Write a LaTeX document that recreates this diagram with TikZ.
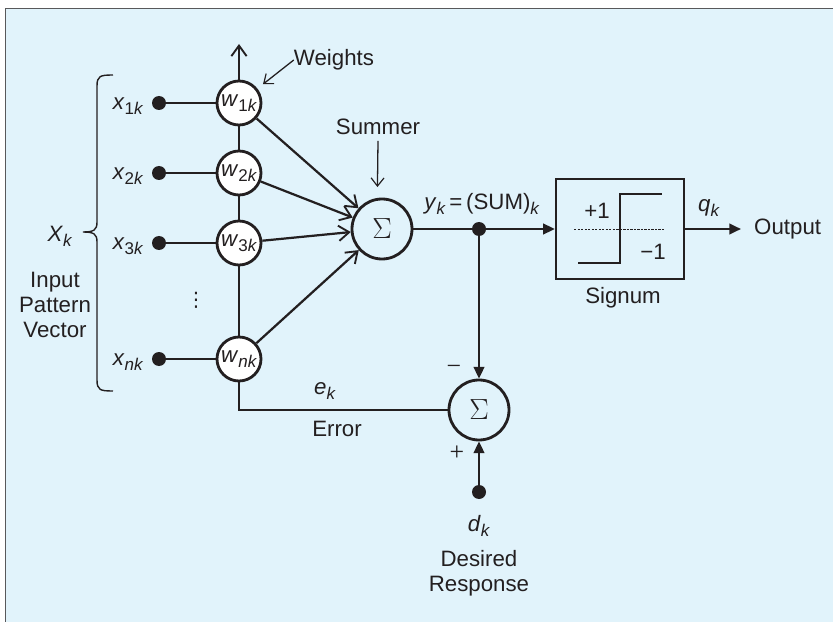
\documentclass[tikz,border=0pt]{standalone}
\usepackage{fontspec}
\setmainfont{Liberation Sans}
\newfontfamily\seriffam{Liberation Serif}
\newfontfamily\symfam{DejaVu Sans}
\usetikzlibrary{arrows.meta,calc}
\definecolor{ink}{HTML}{231F20}
\definecolor{panel}{HTML}{E1F3FB}
\definecolor{frame}{HTML}{58595B}
% subscript set a little below the baseline
\newcommand\sbs[1]{\raisebox{-0.45ex}{\fontsize{14.5}{14.5}\selectfont#1}}
\newcommand\lab{\fontsize{19}{22}\selectfont}
\begin{document}
\begin{tikzpicture}[x=0.03cm,y=-0.03cm,
  wt/.style={circle,draw=ink,line width=2.4pt,fill=white,minimum size=1.32cm,inner sep=0pt,font=\lab},
  sumc/.style={circle,draw=ink,line width=2.4pt,minimum size=1.8cm,inner sep=0pt,font=\seriffam\fontsize{24}{24}\selectfont},
  dot/.style={circle,fill=ink,minimum size=0.42cm,inner sep=0pt},
  wire/.style={line width=2.1pt,draw=ink},
  thin wire/.style={line width=1.1pt,draw=ink},
  barb/.style={-{Straight Barb[length=9pt,width=13pt,line width=1.6pt]}},
  tri/.style={-{Triangle[length=10pt,width=9pt]}},
  lbl/.style={text=ink,inner sep=0pt,font=\lab},
  every node/.append style={text=ink}]

% panel
\path[use as bounding box] (0,0) rectangle (833,622);
\fill[white] (0,0) rectangle (833,622);
\fill[panel] (5.5,8.5) rectangle (833,622);
\draw[frame,line width=1.3pt] (5.5,622) -- (5.5,8.5) -- (833,8.5);

% weights
\node[wt] (w1) at (239,103) {\textit{w}\sbs{1\textit{k}}};
\node[wt] (w2) at (239,173) {\textit{w}\sbs{2\textit{k}}};
\node[wt] (w3) at (239,243) {\textit{w}\sbs{3\textit{k}}};
\node[wt] (wn) at (239,359) {\textit{w}\sbs{\textit{nk}}};

% input terminals
\node[dot] (i1) at (159,103) {};
\node[dot] (i2) at (159,173) {};
\node[dot] (i3) at (159,243) {};
\node[dot] (in) at (159,359) {};
\node[lbl] (xl1) at (128,106) {\textit{x}\sbs{1\textit{k}}};
\node[lbl] (xl2) at (128,176) {\textit{x}\sbs{2\textit{k}}};
\node[lbl] (xl3) at (128,246) {\textit{x}\sbs{3\textit{k}}};
\node[lbl] (xln) at (128,362) {\textit{x}\sbs{\textit{nk}}};
\node[lbl] (vd) at (196,300) {\symfam\fontsize{17}{17}\selectfont ⋮};

\draw[wire] (i1) -- (w1);
\draw[wire] (i2) -- (w2);
\draw[wire] (i3) -- (w3);
\draw[wire] (in) -- (wn);

% weight column and error feedback
\coordinate (topc) at (239,44);
\coordinate (corner) at (239,410);
\draw[wire,barb] (w1.north) -- (topc);
\draw[wire] (w1) -- (w2);
\draw[wire] (w2) -- (w3);
\draw[wire] (w3) -- (wn);

% brace
\draw[ink,line width=1.2pt] (113,75) .. controls (100,75) and (97,76) .. (97,86)
  -- (97,222) .. controls (97,230) and (94,232) .. (83,232)
  .. controls (94,232) and (97,234) .. (97,242)
  -- (97,380) .. controls (97,390) and (100,391) .. (113,391);
\node[lbl] (X) at (60,236) {\textit{X}\sbs{\textit{k}}};
\node[lbl,align=center] (ipv) at (55,305) {Input\\[-1pt]Pattern\\[-1pt]Vector};

% summer
\node[sumc] (S) at (382,229) {$\Sigma$};
\draw[wire,barb,line width=1.9pt] (w1) -- (S);
\draw[wire,barb,line width=1.9pt] (w2) -- (S);
\draw[wire,barb,line width=1.9pt] (w3) -- (S);
\draw[wire,barb,line width=1.9pt] (wn) -- (S);

\node[lbl] (wlab) at (334,60) {Weights};
\draw[thin wire,-{Straight Barb[length=7pt,width=11pt,line width=1pt]},shorten >=6pt] (wlab.west) -- (w1.38);
\node[lbl] (slab) at (378,127) {Summer};
\draw[thin wire,-{Straight Barb[length=7pt,width=11pt,line width=1pt]},shorten >=9pt] ([xshift=0pt,yshift=-5pt]slab.south) -- ([xshift=-4pt]S.north);

% output path
\node[dot] (J) at (479,229) {};
\node[lbl] (ylab) at (482,204) {\textit{y}\sbs{\textit{k}}\,=\,(SUM)\sbs{\textit{k}}};
\node[draw=ink,line width=2pt,minimum width=3.84cm,minimum height=3cm,inner sep=0pt] (sg) at (620,229) {};
\draw[wire] (S) -- (J);
\draw[wire,tri] (J) -- (sg.west);
\draw[ink,line width=0.7pt,dash pattern=on 2pt off 1pt] (574,229) -- (665,229);
\draw[ink,line width=2.2pt] (578,263) -- (620,263) -- (620,194) -- (662,194);
\node[lbl] (p1) at (597,211) {+1};
\node[lbl] (m1) at (653,252) {\textminus1};
\node[lbl] (sgl) at (623,298) {Signum};

\coordinate (oe) at (741,229);
\draw[wire,tri] (sg.east) -- (oe);
\node[lbl,anchor=west] (out) at (754,229) {Output};
\node[lbl] (q) at (709,208) {\textit{q}\sbs{\textit{k}}};

% error summer
\node[sumc] (E) at (479,410) {$\Sigma$};
\draw[wire,tri] (J) -- (E);
\draw[wire] (wn) -- (corner) -- (E);
\node[lbl] (ek) at (325,391) {\textit{e}\sbs{\textit{k}}};
\node[lbl] (err) at (337,429) {Error};
\node[lbl] (minus) at (454,370) {\seriffam\fontsize{22}{22}\selectfont\textminus};
\node[lbl] (plus) at (457,453) {\seriffam\fontsize{22}{22}\selectfont+};

\node[dot] (D) at (479,492) {};
\draw[wire,tri] (D) -- (E);
\node[lbl] (dk) at (479,526) {\textit{d}\sbs{\textit{k}}};
\node[lbl,align=center] (dr) at (479,573) {Desired\\[-1pt]Response};
\end{tikzpicture}
\end{document}
